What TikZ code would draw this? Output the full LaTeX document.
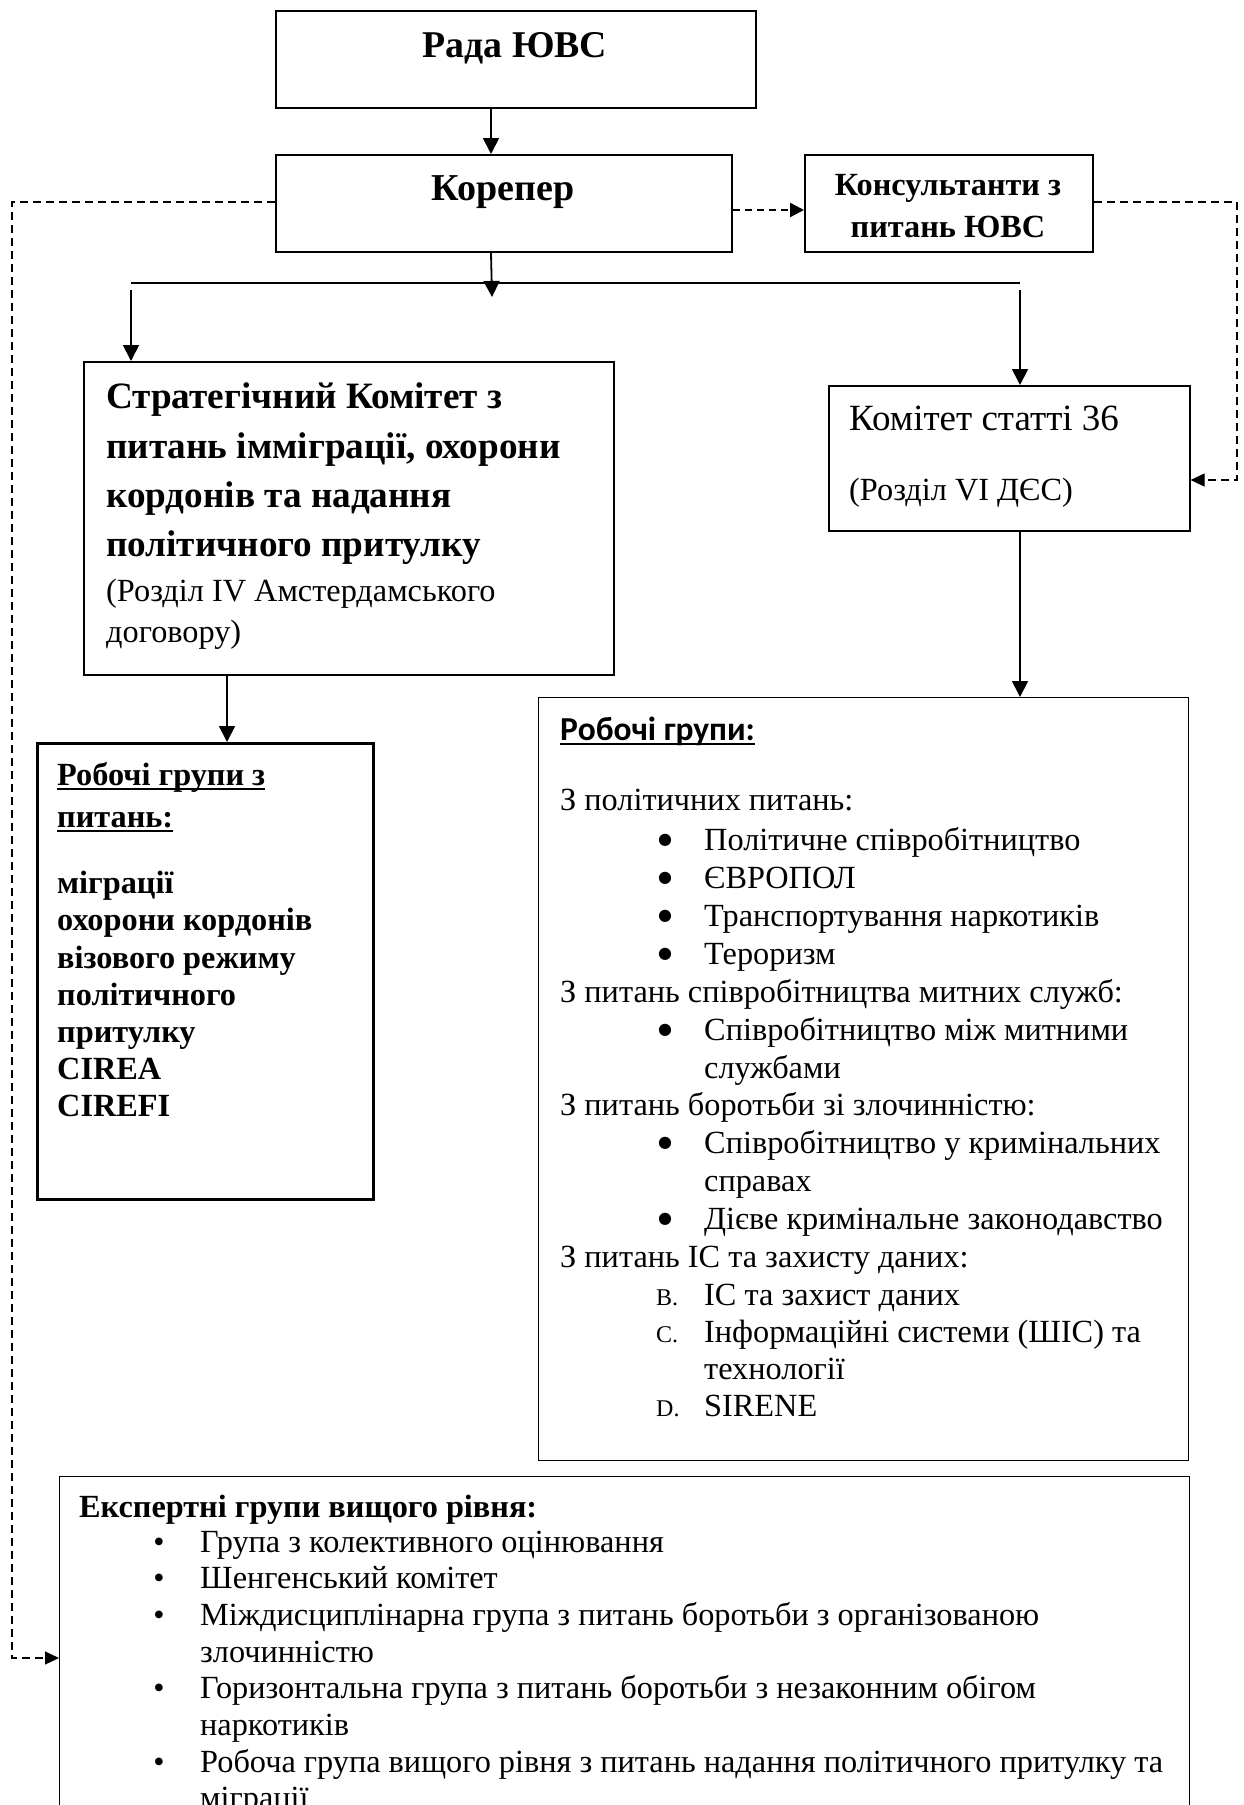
\documentclass[tikz,border=0pt]{standalone}
\usepackage{fontspec}
\setmainfont{Liberation Serif}
\newfontfamily\calib{Carlito}
\newfontfamily\dejavu{DejaVu Sans}
\usetikzlibrary{arrows.meta}
\newcommand{\fs}[1]{\fontsize{#1}{#1}\selectfont}
\begin{document}
\begin{tikzpicture}[x=1pt,y=-1pt,
  box/.style={draw, inner sep=0pt, anchor=north west},
  tx/.style={inner sep=0pt, anchor=base west},
  txc/.style={inner sep=0pt, anchor=base},
  arr/.style={line width=1.8pt, -{Triangle[length=16pt,width=16pt]}},
  dsharr/.style={line width=1.2pt, dash pattern=on 8pt off 5pt, -{Triangle[length=14pt,width=13pt]}},
  body/.style={font=\fs{32.3}},
  bodyb/.style={font=\bfseries\fs{32.3}},
  big/.style={font=\bfseries\fs{37.2}},
  bul/.style={inner sep=0pt, anchor=base, font=\dejavu\fs{16}},
  sbul/.style={inner sep=0pt, anchor=base, font=\fs{32}},
  lett/.style={tx, font=\fs{24}},
  ul/.style={line width=1.8pt}
]
\useasboundingbox (0,0) rectangle (1243,1805);
\clip (0,0) rectangle (1243,1805);

% boxes
\node[box, line width=2.2pt, minimum width=480pt, minimum height=97pt] (rada) at (275,10) {};
\node[box, line width=2.2pt, minimum width=456pt, minimum height=97pt] (kor) at (275,154) {};
\node[box, line width=2.2pt, minimum width=288pt, minimum height=97pt] (kons) at (804,154) {};
\node[box, line width=2.2pt, minimum width=530pt, minimum height=313pt] (strat) at (83,361) {};
\node[box, line width=1.6pt, minimum width=361pt, minimum height=145pt] (kom) at (828,385) {};
\node[box, line width=3.2pt, minimum width=336pt, minimum height=456pt] (lwg) at (36,742) {};
\node[box, line width=1.4pt, minimum width=650pt, minimum height=763pt] (rwg) at (538,697) {};
\node[box, line width=1.4pt, minimum width=1130pt, minimum height=450pt] (exp) at (59,1476) {};

% top texts
\node[txc, font=\bfseries\fs{37.8}] (radat) at (515,57) {Рада ЮВС};
\node[txc, font=\bfseries\fs{38}] (kort) at (503,200) {Корепер};
\node[txc, font=\bfseries\fs{32.3}] (konst1) at (948,195) {Консультанти з};
\node[txc, font=\bfseries\fs{32.3}] (konst2) at (948,237) {питань ЮВС};

% strategic committee
\node[tx, big] (s1) at (106,408) {Стратегічний Комітет з};
\node[tx, big] (s2) at (106,458) {питань імміграції, охорони};
\node[tx, big] (s3) at (106,507) {кордонів та надання};
\node[tx, big] (s4) at (106,556) {політичного притулку};
\node[tx, body] (s5) at (106,601) {(Розділ IV Амстердамського};
\node[tx, body] (s6) at (106,642) {договору)};

% committee 36
\node[tx, font=\fs{37}] (k1) at (849,430) {Комітет статті 36};
\node[tx, body] (k2) at (849,500) {(Розділ VI ДЄС)};

% left working groups
\node[tx, bodyb] (l1) at (57,785) {Робочі групи з};
\node[tx, bodyb] (l2) at (57,827) {питань:};
\draw[ul] ([yshift=-4pt]l1.base west) -- ([yshift=-4pt]l1.base east);
\draw[ul] ([yshift=-4pt]l2.base west) -- ([yshift=-4pt]l2.base east);
\node[tx, bodyb] (l3) at (57,893) {міграції};
\node[tx, bodyb] (l4) at (57,930) {охорони кордонів};
\node[tx, bodyb] (l5) at (57,968) {візового режиму};
\node[tx, bodyb] (l6) at (57,1005) {політичного};
\node[tx, bodyb] (l7) at (57,1042) {притулку};
\node[tx, bodyb] (l8) at (57,1079) {CIREA};
\node[tx, bodyb] (l9) at (57,1116) {CIREFI};

% right working groups
\node[tx, font=\calib\bfseries\fs{33.5}] (r0) at (560,740) {Робочі групи:};
\draw[line width=1.5pt] ([yshift=-4pt]r0.base west) -- ([yshift=-4pt]r0.base east);
\node[tx, body] (r1) at (560,810) {З політичних питань:};
\node[bul] (b1) at (665,844) {●};
\node[tx, body] (r2) at (704,850) {Політичне співробітництво};
\node[bul] (b2) at (665,882) {●};
\node[tx, body] (r3) at (704,888) {ЄВРОПОЛ};
\node[bul] (b3) at (665,920) {●};
\node[tx, body] (r4) at (704,926) {Транспортування наркотиків};
\node[bul] (b4) at (665,958) {●};
\node[tx, body] (r5) at (704,964) {Тероризм};
\node[tx, body] (r6) at (560,1002) {З питань співробітництва митних служб:};
\node[bul] (b5) at (665,1034) {●};
\node[tx, body] (r7) at (704,1040) {Співробітництво між митними};
\node[tx, body] (r8) at (704,1078) {службами};
\node[tx, body] (r9) at (560,1115) {З питань боротьби зі злочинністю:};
\node[bul] (b6) at (665,1147) {●};
\node[tx, body] (r10) at (704,1153) {Співробітництво у кримінальних};
\node[tx, body] (r11) at (704,1191) {справах};
\node[bul] (b7) at (665,1223) {●};
\node[tx, body] (r12) at (704,1229) {Дієве кримінальне законодавство};
\node[tx, body] (r13) at (560,1267) {З питань ІС та захисту даних:};
\node[lett] (e1) at (656,1305) {B.};
\node[tx, body] (r14) at (704,1305) {ІС та захист даних};
\node[lett] (e2) at (656,1342) {C.};
\node[tx, body] (r15) at (704,1342) {Інформаційні системи (ШІС) та};
\node[tx, body] (r16) at (704,1379) {технології};
\node[lett] (e3) at (656,1416) {D.};
\node[tx, body] (r17) at (704,1416) {SIRENE};

% expert groups
\node[tx, bodyb] (x0) at (79,1517) {Експертні групи вищого рівня:};
\node[sbul] (xb1) at (159,1552) {•};
\node[tx, body] (x1) at (200,1552) {Група з колективного оцінювання};
\node[sbul] (xb2) at (159,1588) {•};
\node[tx, body] (x2) at (200,1588) {Шенгенський комітет};
\node[sbul] (xb3) at (159,1625) {•};
\node[tx, body] (x3) at (200,1625) {Міждисциплінарна група з питань боротьби з організованою};
\node[tx, body] (x4) at (200,1662) {злочинністю};
\node[sbul] (xb4) at (159,1698) {•};
\node[tx, body] (x5) at (200,1698) {Горизонтальна група з питань боротьби з незаконним обігом};
\node[tx, body] (x6) at (200,1735) {наркотиків};
\node[sbul] (xb5) at (159,1772) {•};
\node[tx, body] (x7) at (200,1772) {Робоча група вищого рівня з питань надання політичного притулку та};
\node[tx, body] (x8) at (200,1808) {міграції};

% connectors
\coordinate (busL) at (131,283);
\coordinate (busR) at (1020,283);
\coordinate (busM) at (492,297);
\draw[arr] (rada.south -| 491,0) -- (kor.north -| 491,0);
\draw[arr] (kor.south -| 491,0) -- (busM);
\draw[line width=1.8pt] (busL) -- (busR);
\draw[arr] ([yshift=-7pt]busL) -- (strat.north -| busL);
\draw[arr] ([yshift=-7pt]busR) -- (kom.north -| busR);
\draw[arr] (strat.south -| 227,0) -- (lwg.north -| 227,0);
\draw[arr] (kom.south -| 1020,0) -- (rwg.north -| 1020,0);
\draw[line width=2.4pt, dash pattern=on 7pt off 5pt, -{Triangle[length=14pt,width=14pt]}] (kor.east |- 0,210) -- (kons.west |- 0,210);
\draw[dsharr] (kons.east |- 0,202) -- (1237,202) -- (1237,480) -- (kom.east |- 0,480);
\draw[dsharr] (kor.west |- 0,202) -- (12,202) -- (12,1658) -- (exp.west |- 0,1658);
\end{tikzpicture}
\end{document}
